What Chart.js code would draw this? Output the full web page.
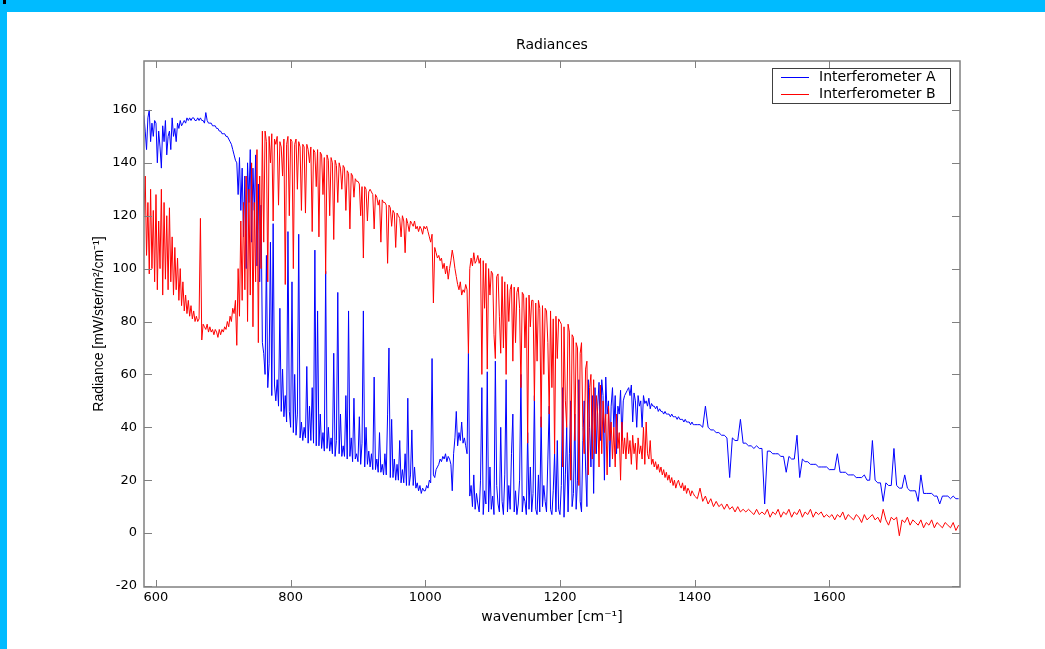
<!DOCTYPE html>
<html><head><meta charset="utf-8">
<script src="https://cdn.jsdelivr.net/npm/chart.js@4.4.0/dist/chart.umd.min.js"></script>
<style>
html,body{margin:0;padding:0;background:#fff;}
#wrap{position:relative;width:1045px;height:649px;overflow:hidden;background:#fff;}
#c{position:absolute;left:0;top:0;}
.bar{position:absolute;background:#00bbff;}
</style></head><body>
<div id="wrap">
<canvas id="c" width="1045" height="649"></canvas>
<div class="bar" style="left:0;top:0;width:1045px;height:12px"></div>
<div class="bar" style="left:0;top:0;width:7px;height:649px"></div>
<div style="position:absolute;left:3px;top:0;width:3px;height:4px;background:#000"></div>
</div>
<script>
const chartTitle = 'Radiances';
const xLabel = 'wavenumber [cm\u207B\u00B9]';
const yLabel = 'Radiance [mW/ster/m\u00B2/cm\u207B\u00B9]';
const seriesLabels = ['Interferometer A', 'Interferometer B'];
const xTickValues = [600, 800, 1000, 1200, 1400, 1600];
const yTickValues = [-20, 0, 20, 40, 60, 80, 100, 120, 140, 160];

const wavenumber = [
 580,582,584,586,588,590,592,594,596,598,600,602,604,606,608,610,612,614,616,618,
 620,622,624,626,628,630,632,634,636,638,640,642,644,646,648,650,652,654,656,658,
 660,662,664,666,668,670,672,674,676,678,680,682,684,686,688,690,692,694,696,698,
 700,702,704,706,708,710,712,714,716,718,720,722,724,726,728,730,732,734,736,738,
 740,742,744,746,748,750,752,754,756,758,760,762,764,766,768,770,772,774,776,778,
 780,782,784,786,788,790,792,794,796,798,800,802,804,806,808,810,812,814,816,818,
 820,822,824,826,828,830,832,834,836,838,840,842,844,846,848,850,852,854,856,858,
 860,862,864,866,868,870,872,874,876,878,880,882,884,886,888,890,892,894,896,898,
 900,902,904,906,908,910,912,914,916,918,920,922,924,926,928,930,932,934,936,938,
 940,942,944,946,948,950,952,954,956,958,960,962,964,966,968,970,972,974,976,978,
 980,982,984,986,988,990,992,994,996,998,1000,1002,1004,1006,1008,1010,1012,1014,1016,1018,
 1020,1022,1024,1026,1028,1030,1032,1034,1036,1038,1040,1042,1044,1046,1048,1050,1052,1054,1056,1058,
 1060,1062,1064,1066,1068,1070,1072,1074,1076,1078,1080,1082,1084,1086,1088,1090,1092,1094,1096,1098,
 1100,1102,1104,1106,1108,1110,1112,1114,1116,1118,1120,1122,1124,1126,1128,1130,1132,1134,1136,1138,
 1140,1142,1144,1146,1148,1150,1152,1154,1156,1158,1160,1162,1164,1166,1168,1170,1172,1174,1176,1178,
 1180,1182,1184,1186,1188,1190,1192,1194,1196,1198,1200,1202,1204,1206,1208,1210,1212,1214,1216,1218,
 1220,1222,1224,1226,1228,1230,1232,1234,1236,1238,1240,1242,1244,1246,1248,1250,1252,1254,1256,1258,
 1260,1262,1264,1266,1268,1270,1272,1274,1276,1278,1280,1282,1284,1286,1288,1290,1292,1294,1296,1298,
 1300,1302,1304,1306,1308,1310,1312,1314,1316,1318,1320,1322,1324,1326,1328,1330,1332,1334,1336,1338,
 1340,1342,1344,1346,1348,1350,1352,1354,1356,1358,1360,1362,1364,1366,1368,1370,1372,1374,1376,1378,
 1380,1382,1384,1386,1388,1390,1392,1394,1396,1398,
 1400,1404,1408,1412,1416,1420,1424,1428,1432,1436,1440,1444,1448,1452,1456,1460,1464,1468,1472,1476,
 1480,1484,1488,1492,1496,1500,1504,1508,1512,1516,1520,1524,1528,1532,1536,1540,1544,1548,1552,1556,
 1560,1564,1568,1572,1576,1580,1584,1588,1592,1596,1600,1604,1608,1612,1616,1620,1624,1628,1632,1636,
 1640,1644,1648,1652,1656,1660,1664,1668,1672,1676,1680,1684,1688,1692,1696,1700,1704,1708,1712,1716,
 1720,1724,1728,1732,1736,1740,1744,1748,1752,1756,1760,1764,1768,1772,1776,1780,1784,1788,1792
];

const radianceA = [
 150,158,152,145,157,160,148,155,150,156,
 155,140,152,146,138,154,148,156,143,150,
 152,145,157,150,153,148,155,153,156,154,
 155,156,155,157,156,157,156,157,157,156,
 156,157,156,157,156,156,155,159,156,155,
 155,155,154,154,154,153,153,152,152,151,
 151,151,150,150,149,148,147,145,143,141,
 140,128,142,122,138,112,135,100,140,125,
 145,110,138,122,143,101,132,95,124,72,
 68,60,105,55,64,110,52,117,56,50,
 58,48,85,46,62,44,52,42,114,46,
 40,95,38,60,37,45,113,36,42,35,
 40,36,63,34,48,35,55,34,107,33,
 84,33,45,32,38,31,99,32,40,31,
 36,30,68,29,35,91,30,45,29,33,
 29,52,28,84,29,36,27,51,28,30,
 27,44,26,34,84,25,40,26,31,25,
 30,24,59,24,28,23,38,23,26,22,
 30,22,45,70,21,43,21,28,20,26,
 20,35,19,24,19,30,18,51,18,22,
 39,18,25,17,19,16,18,15,17,16,
 16,18,17,20,19,66,22,21,24,25,
 26,28,27,29,28,30,27,29,28,26,
 16,30,36,46,33,38,35,42,34,36,
 33,30,68,14,18,10,22,9,15,11,
 8,20,55,7,16,11,61,8,25,9,
 14,7,65,18,11,8,40,12,7,22,
 58,8,18,9,30,45,8,16,7,11,
 20,60,8,14,12,7,38,9,25,8,
 15,52,9,7,22,8,44,10,18,12,
 8,28,48,9,7,16,30,8,35,9,
 7,18,55,6,22,40,8,30,50,10,
 15,45,9,20,58,12,8,35,50,25,
 10,58,40,25,52,15,55,30,48,57,
 35,58,52,20,59,45,50,25,48,55,
 40,52,30,48,45,54,35,50,52,53,
 54,55,52,56,42,53,50,40,52,48,
 50,40,52,49,50,48,51,47,49,48,
 48,47,48,46,47,46,46,45,46,45,
 45,45,44,45,44,44,44,43,44,43,
 43,43,42,43,42,42,42,41,42,41,
 41,
 41,41,40,48,40,39,39,38,38,37,37,36,21,36,35,35,43,34,34,33,33,32,33,32,32,
 11,31,31,30,30,30,29,29,23,29,28,28,37,21,28,27,27,26,26,26,25,25,25,25,24,
 24,24,30,23,23,23,22,22,22,21,21,21,22,20,20,35,20,19,19,12,19,18,18,32,18,
 17,17,22,17,16,16,16,12,22,15,15,15,15,14,14,11,14,14,14,13,14,13,13
];

const radianceB = [
 142,120,135,105,125,98,130,100,122,95,
 128,92,118,100,130,90,125,96,120,92,
 123,95,112,90,108,92,104,88,100,86,
 95,84,90,83,88,82,86,81,84,80,
 82,80,81,119,73,79,78,77,79,76,
 78,76,77,75,77,76,74,77,75,77,
 76,78,77,80,78,82,80,85,83,88,
 71,100,82,118,88,125,92,135,80,130,
 90,140,78,125,95,145,72,135,100,152,
 110,152,148,95,150,140,151,118,149,147,
 150,124,148,146,135,149,94,147,150,120,
 149,148,100,147,149,130,148,146,122,147,
 146,121,147,145,140,146,114,145,144,131,
 145,112,144,143,128,142,98,143,141,120,
 142,140,111,141,139,125,140,138,130,139,
 138,122,137,136,115,136,135,127,134,133,
 133,132,120,131,104,131,130,118,129,130,
 129,128,115,128,127,124,126,110,126,125,
 125,124,102,124,123,116,122,121,108,121,
 120,119,112,120,118,106,119,117,114,118,
 117,116,118,115,116,114,116,115,113,116,
 115,116,114,112,110,113,87,108,106,104,
 105,103,104,100,102,98,101,96,100,103,
 107,104,100,97,94,92,95,90,92,91,
 94,92,68,100,104,101,106,102,103,105,
 102,104,60,103,85,102,62,100,90,99,
 98,75,66,97,98,82,68,97,70,95,
 60,94,80,92,94,65,93,72,91,93,
 85,55,91,90,70,89,34,90,78,88,
 88,50,87,65,88,85,40,86,60,85,
 84,72,45,84,55,81,30,82,66,81,
 80,79,25,78,50,40,79,76,20,75,
 74,35,72,70,18,68,72,40,30,62,
 65,22,55,60,28,58,30,52,45,25,
 56,30,50,38,45,22,48,35,42,28,
 40,25,45,32,38,20,42,30,36,28,
 38,30,35,26,37,30,34,24,36,30,
 33,28,40,26,42,30,28,35,26,28,
 25,27,24,26,23,25,22,24,21,23,
 20,22,19,21,18,20,17,19,20,18,
 17,19,16,18,15,17,16,14,16,15,
 14,
 13,17,12,14,11,13,10,12,10,11,9,11,9,10,8,10,8,9,8,9,8,7,9,7,8,
 7,9,6,8,7,9,6,8,7,9,6,8,7,9,6,8,7,9,6,8,7,8,6,7,6,
 7,5,7,6,8,5,7,6,5,7,6,4,7,5,6,7,5,6,4,9,5,3,6,5,6,
 -1,5,4,6,3,5,4,3,5,2,4,3,5,2,4,3,2,4,3,2,4,1,3
];

const seriesColors = ['#0000ff', '#ff0000'];

if (wavenumber.length !== radianceA.length || wavenumber.length !== radianceB.length) {
  console.error('length mismatch', wavenumber.length, radianceA.length, radianceB.length);
}

const axesBox = {
  id: 'axesBox',
  afterDraw(chart) {
    const {ctx, chartArea: a, scales: {x, y}} = chart;
    ctx.save();
    ctx.strokeStyle = '#808080';
    ctx.lineWidth = 1.5;
    ctx.strokeRect(a.left, a.top, a.right - a.left, a.bottom - a.top);
    ctx.lineWidth = 1;
    ctx.beginPath();
    x.ticks.forEach(t => {
      const p = Math.round(x.getPixelForValue(t.value)) + 0.5;
      ctx.moveTo(p, a.bottom); ctx.lineTo(p, a.bottom - 7);
      ctx.moveTo(p, a.top); ctx.lineTo(p, a.top + 7);
    });
    y.ticks.forEach(t => {
      const p = Math.round(y.getPixelForValue(t.value)) + 0.5;
      ctx.moveTo(a.left, p); ctx.lineTo(a.left + 8, p);
      ctx.moveTo(a.right, p); ctx.lineTo(a.right - 8, p);
    });
    ctx.stroke();
    ctx.restore();
  }
};

const insideLegend = {
  id: 'insideLegend',
  afterDraw(chart) {
    const {ctx, chartArea: a} = chart;
    const bx = a.right - 188, by = a.top + 7, bw = 178, bh = 35;
    ctx.save();
    ctx.fillStyle = '#fff';
    ctx.fillRect(bx, by, bw, bh);
    ctx.strokeStyle = '#404040';
    ctx.lineWidth = 1;
    ctx.strokeRect(bx + 0.5, by + 0.5, bw, bh);
    ctx.font = '14px "DejaVu Sans"';
    ctx.textBaseline = 'middle';
    ctx.textAlign = 'left';
    chart.data.datasets.forEach((ds, i) => {
      const ly = by + 9.5 + i * 17;
      ctx.strokeStyle = ds.borderColor;
      ctx.beginPath();
      ctx.moveTo(bx + 9, ly); ctx.lineTo(bx + 37, ly);
      ctx.stroke();
      ctx.fillStyle = '#000';
      ctx.fillText(ds.label, bx + 47, ly);
    });
    ctx.restore();
  }
};

new Chart(document.getElementById('c'), {
  type: 'line',
  data: {
    datasets: [
      {label: seriesLabels[0], data: wavenumber.map((w, i) => ({x: w, y: radianceA[i]})),
       borderColor: seriesColors[0], borderWidth: 1, pointRadius: 0, tension: 0, order: 2},
      {label: seriesLabels[1], data: wavenumber.map((w, i) => ({x: w, y: radianceB[i]})),
       borderColor: seriesColors[1], borderWidth: 1, pointRadius: 0, tension: 0, order: 1}
    ]
  },
  options: {
    responsive: false,
    animation: false,
    events: [],
    layout: {padding: {left: 0, right: 85, top: 0, bottom: 0}},
    plugins: {
      legend: {display: false},
      tooltip: {enabled: false},
      title: {display: true, text: chartTitle, fullSize: false, color: '#000',
        font: {family: 'DejaVu Sans', size: 14, weight: 'normal'},
        padding: {top: 37, bottom: 7.2}}
    },
    scales: {
      x: {
        type: 'linear', min: 582.2, max: 1794.1,
        grid: {display: false, drawTicks: false},
        border: {display: false},
        ticks: {color: '#000', font: {family: 'DejaVu Sans', size: 13}, padding: 3,
          maxRotation: 0, autoSkip: false, callback: v => String(v)},
        afterBuildTicks: s => { s.ticks = xTickValues.map(v => ({value: v})); },
        afterFit: s => { s.height = 62; },
        title: {display: true, text: xLabel, color: '#000',
          font: {family: 'DejaVu Sans', size: 14}, padding: {top: 0, bottom: 23.6}}
      },
      y: {
        type: 'linear', min: -20.38, max: 178.5,
        grid: {display: false, drawTicks: false},
        border: {display: false},
        ticks: {color: '#000', font: {family: 'DejaVu Sans', size: 13}, padding: 7,
          autoSkip: false, callback: v => String(v)},
        afterBuildTicks: s => { s.ticks = yTickValues.map(v => ({value: v})); },
        afterFit: s => { s.width = 144; },
        title: {display: true, text: yLabel, color: '#000',
          font: {family: 'Liberation Sans', size: 14}, padding: {top: 90.6, bottom: 0}}
      }
    }
  },
  plugins: [axesBox, insideLegend]
});
</script>
</body></html>
